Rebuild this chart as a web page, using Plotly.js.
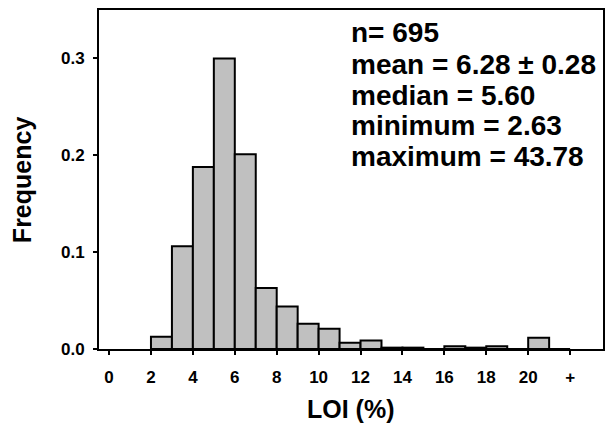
<!DOCTYPE html>
<html>
<head>
<meta charset="utf-8">
<script src="https://cdn.plot.ly/plotly-3.0.1.min.js"></script>
<style>
  html, body { margin: 0; padding: 0; background: #fff; }
  #chart { width: 605px; height: 425px; }
</style>
</head>
<body>
<div id="chart"></div>
<script>
// LOI histogram: left edge of each 1-unit bin and its relative frequency
const binStart = [2, 3, 4, 5, 6, 7, 8, 9, 10, 11, 12, 13, 14, 15, 16, 17, 18, 19, 20, 21];
const frequency = [0.0126, 0.106, 0.188, 0.300, 0.201, 0.063, 0.044, 0.026, 0.021, 0.0065,
                   0.0088, 0.0014, 0.0014, 0, 0.0029, 0.0014, 0.0029, 0, 0.0115, 0];

const xTickVals = [0, 2, 4, 6, 8, 10, 12, 14, 16, 18, 20, 22];
const xTickText = ['0', '2', '4', '6', '8', '10', '12', '14', '16', '18', '20', '+'];
const yTickVals = [0, 0.1, 0.2, 0.3];

const statLines = ['n= 695', 'mean = 6.28 \u00b1 0.28', 'median = 5.60', 'minimum = 2.63', 'maximum = 43.78'];

const FONT = '"Liberation Sans", Arial, Helvetica, sans-serif';

const trace = {
  type: 'bar',
  x: binStart,
  y: frequency,
  width: 1,
  offset: 0,
  marker: { color: '#c0c0c0', line: { color: '#000', width: 2 } },
  hoverinfo: 'x+y'
};

// summary statistics, one line per annotation
const statY = [0.933, 0.84, 0.749, 0.658, 0.567];
const annotations = statLines.map((t, i) => ({
  text: t, xref: 'paper', yref: 'paper', x: 0.497, y: statY[i],
  xanchor: 'left', yanchor: 'middle', showarrow: false,
  font: { family: FONT, size: 28, color: '#000', weight: 'bold' }
}));
annotations.push({
  text: 'LOI (%)', xref: 'paper', yref: 'paper', x: 0.5, y: -0.177,
  xanchor: 'center', yanchor: 'middle', showarrow: false,
  font: { family: FONT, size: 25, color: '#000', weight: 'bold' }
});
annotations.push({
  text: 'Frequency', xref: 'paper', yref: 'paper', x: -0.1535, y: 0.5,
  xanchor: 'center', yanchor: 'middle', showarrow: false, textangle: -90,
  font: { family: FONT, size: 25, color: '#000', weight: 'bold' }
});

const layout = {
  width: 605, height: 425,
  margin: { l: 99, r: 2, t: 10, b: 75.5 },
  paper_bgcolor: '#fff', plot_bgcolor: '#fff',
  showlegend: false,
  bargap: 0,
  font: { family: FONT, color: '#000' },
  xaxis: {
    range: [-0.48, 23.57],
    tickvals: xTickVals, ticktext: xTickText,
    ticks: 'outside', ticklen: 4, tickwidth: 2, tickcolor: '#000',
    ticklabelstandoff: 8,
    showline: true, linewidth: 2, linecolor: '#000', mirror: true,
    showgrid: false, zeroline: false,
    tickfont: { family: FONT, size: 17, weight: 'bold', color: '#000' }
  },
  yaxis: {
    range: [0, 0.35],
    tickvals: yTickVals, tickformat: '.1f',
    ticks: 'outside', ticklen: 4, tickwidth: 2, tickcolor: '#000',
    ticklabelstandoff: 5,
    showline: true, linewidth: 2, linecolor: '#000', mirror: true,
    showgrid: false, zeroline: false,
    tickfont: { family: FONT, size: 17, weight: 'bold', color: '#000' }
  },
  annotations: annotations
};

Plotly.newPlot('chart', [trace], layout, { staticPlot: true, displayModeBar: false });
</script>
</body>
</html>
